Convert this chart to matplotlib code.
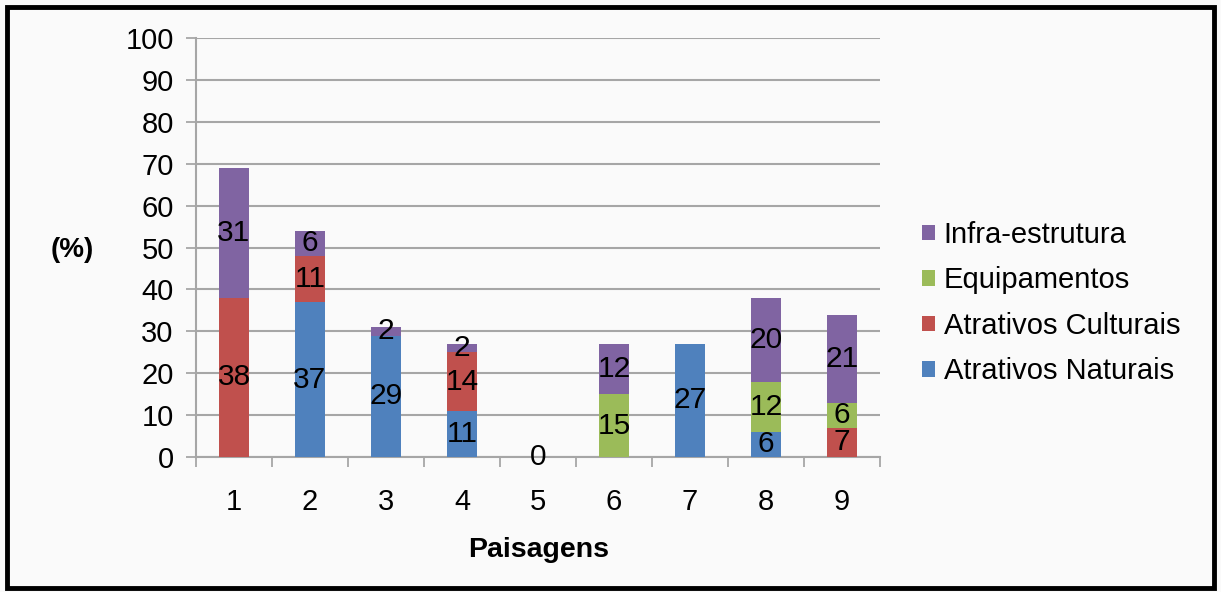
import matplotlib
matplotlib.use("Agg")
import matplotlib.pyplot as plt
from matplotlib.patches import Rectangle
import numpy as np

plt.rcParams['font.family'] = ['Liberation Sans', 'DejaVu Sans']

categories = ['1', '2', '3', '4', '5', '6', '7', '8', '9']
naturais = [0, 37, 29, 11, 0, 0, 27, 6, 0]
culturais = [38, 11, 0, 14, 0, 0, 0, 0, 7]
equipamentos = [0, 0, 0, 0, 0, 15, 0, 12, 6]
infra = [31, 6, 2, 2, 0, 12, 0, 20, 21]

series = [
    ('Atrativos Naturais', naturais, '#4F81BD'),
    ('Atrativos Culturais', culturais, '#C0504D'),
    ('Equipamentos', equipamentos, '#9BBB59'),
    ('Infra-estrutura', infra, '#8064A2'),
]

fig = plt.figure(figsize=(12.21, 5.92), dpi=100)
fig.patch.set_facecolor('#FAFAFA')
ax = fig.add_axes([0.1605, 0.228, 0.5602, 0.7078])
ax.set_facecolor('#FAFAFA')

x = np.arange(len(categories))
bottom = np.zeros(len(categories))
handles = []
for name, vals, color in series:
    vals = np.array(vals, dtype=float)
    b = ax.bar(x, vals, width=0.4, bottom=bottom, color=color, label=name, zorder=3)
    handles.append(b)
    for xi, v, b0 in zip(x, vals, bottom):
        if v > 0:
            ax.text(xi, b0 + v / 2, f'{int(v)}', ha='center', va='center',
                    fontsize=21.5, color='black', zorder=4)
    bottom += vals

# empty landscape
for xi, tot in zip(x, bottom):
    if tot == 0:
        ax.text(xi, 0, '0', ha='center', va='center', fontsize=21.5, color='black', zorder=4)

ax.set_xlim(-0.5, len(categories) - 0.5)
ax.set_ylim(0, 100)
ax.set_yticks(np.arange(0, 101, 10))
ax.yaxis.grid(True, color='#A6A6A6', linewidth=1.5, zorder=0)
ax.set_axisbelow(True)

ax.set_xticks(np.arange(-0.5, len(categories), 1))
ax.set_xticklabels([])
ax.set_xticks(x, minor=True)
ax.set_xticklabels(categories, minor=True)
ax.tick_params(axis='x', which='major', direction='out', length=7, width=1.3, color='#A6A6A6')
ax.tick_params(axis='x', which='minor', length=0, pad=22, labelsize=21)
ax.tick_params(axis='y', direction='out', length=7, width=1.3, color='#A6A6A6', pad=9, labelsize=21)

for s in ['top', 'right']:
    ax.spines[s].set_visible(False)
for s in ['left', 'bottom']:
    ax.spines[s].set_color('#A6A6A6')
    ax.spines[s].set_linewidth(1.5)

fig.text(72 / 1221, 1 - 250 / 592, '(%)', ha='center', va='center', fontsize=20, fontweight='bold')
fig.text(539 / 1221, 1 - 550 / 592, 'Paisagens', ha='center', va='center', fontsize=20.5, fontweight='bold')

leg = fig.legend(handles=handles[::-1], labels=[s[0] for s in series][::-1],
                 loc='center left', bbox_to_anchor=(922 / 1221, 1 - 303 / 592),
                 frameon=False, fontsize=21, handlelength=0.45, handleheight=0.45,
                 handletextpad=0.3, labelspacing=0.6, borderaxespad=0, borderpad=0)

fig.add_artist(Rectangle((0.006, 0.006), 0.988, 0.982, transform=fig.transFigure,
                         fill=False, edgecolor='black', linewidth=3.5))

fig.savefig('out.png', dpi=100, facecolor=fig.get_facecolor())
